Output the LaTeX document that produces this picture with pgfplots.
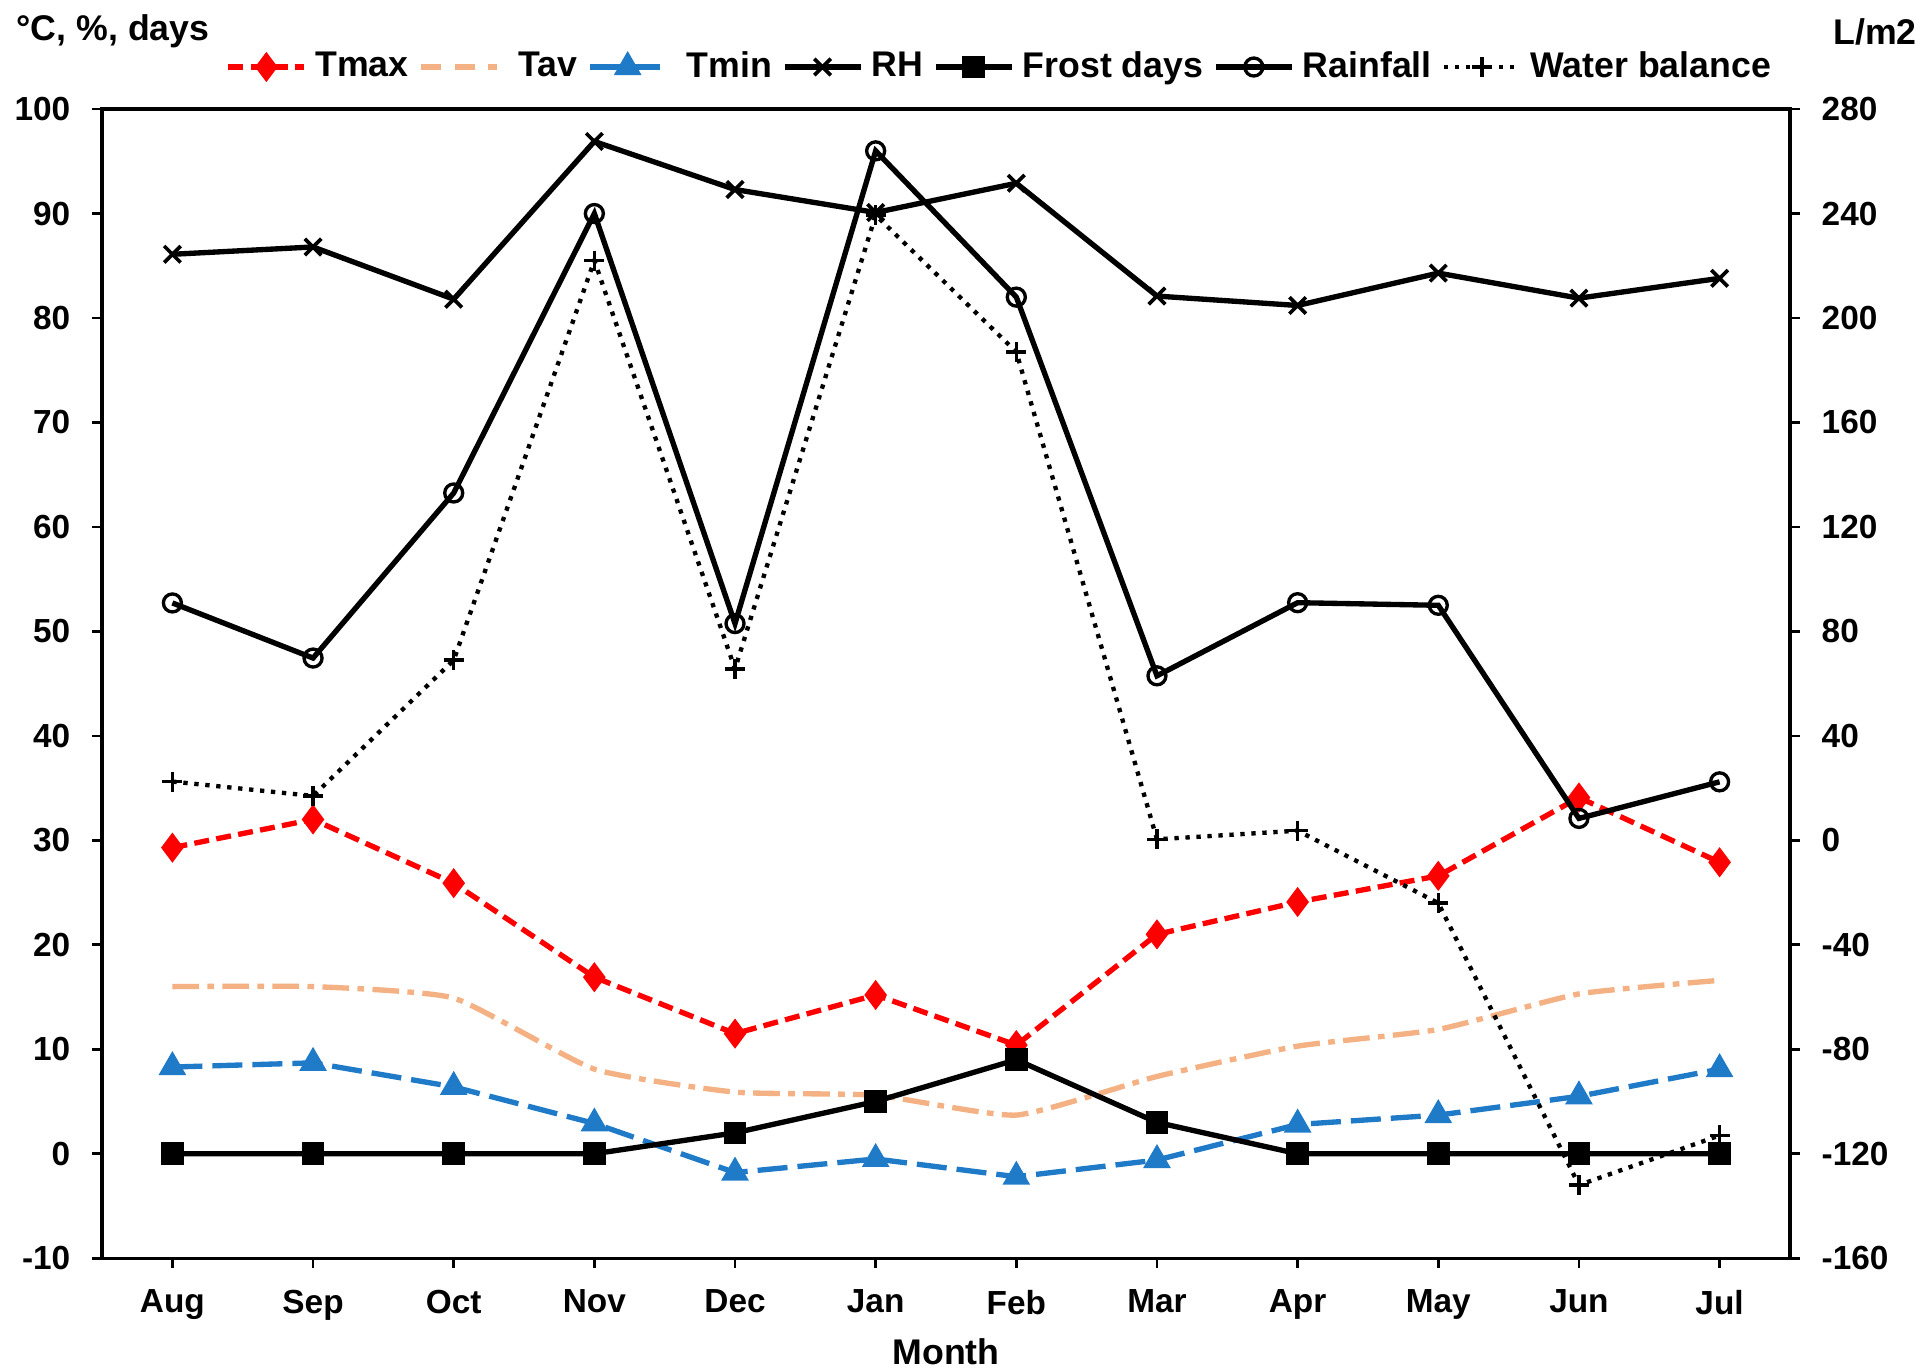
\documentclass[border=0pt]{standalone}
\usepackage{fontspec}
\setmainfont{Liberation Sans}
\usepackage{pgfplots}
\pgfplotsset{compat=1.18}
\definecolor{tmaxc}{HTML}{FF0000}
\definecolor{tavc}{HTML}{F4B183}
\definecolor{tminc}{HTML}{1F7BC8}
\begin{document}
\begin{tikzpicture}
\pgfplotsset{
  base/.style={
    scale only axis, width=506pt, height=344.5pt,
    xmin=-0.5, xmax=11.5,
    xtick={0,...,11},
    /pgf/number format/assume math mode=true,
    every tick label/.append style={font=\fontsize{10}{12}\selectfont\bfseries},
    axis line style={line width=1pt},
    tick style={line width=0.8pt, black},
    tick align=outside,
    major tick length=3pt,
    legend image code/.code={%
      \draw[mark repeat=2,mark phase=2] plot coordinates {(0cm,0cm) (0.4cm,0cm) (0.8cm,0cm)};},
  }
}
\begin{axis}[base,
  ymin=-10, ymax=100, ytick={-10,0,...,100},
  xticklabels={Aug,Sep,Oct,Nov,Dec,Jan,Feb,Mar,Apr,May,Jun,Jul},
  xtick pos=bottom, ytick pos=left,
  xticklabel style={yshift=-3pt},
  yticklabel style={xshift=-3pt},
  clip=false,
]
\addplot[color=tmaxc, line width=1.6pt, dash pattern=on 4.5pt off 2.2pt, mark=diamond*, mark size=3.2pt, mark options={solid, fill=tmaxc}]
  coordinates {(0,29.3)(1,32.0)(2,25.9)(3,16.9)(4,11.5)(5,15.2)(6,10.4)(7,21.0)(8,24.1)(9,26.6)(10,34.1)(11,27.9)};
\addplot[color=tavc, line width=1.6pt, dash pattern=on 8pt off 2.5pt on 2pt off 2.5pt, smooth, tension=0.3]
  coordinates {(0,16.0)(1,16.0)(2,14.9)(3,8.1)(4,5.9)(5,5.6)(6,3.7)(7,7.4)(8,10.3)(9,11.9)(10,15.3)(11,16.6)};
\addplot[color=tminc, line width=1.6pt, dash pattern=on 9pt off 3pt, mark=triangle*, mark size=3.2pt, mark options={solid, fill=tminc}]
  coordinates {(0,8.3)(1,8.7)(2,6.4)(3,2.9)(4,-1.8)(5,-0.5)(6,-2.2)(7,-0.6)(8,2.8)(9,3.7)(10,5.5)(11,8.1)};
\addplot[color=black, line width=1.6pt, mark=x, mark size=3.5pt, mark options={solid, line width=1.1pt}]
  coordinates {(0,86.1)(1,86.8)(2,81.8)(3,96.9)(4,92.3)(5,90.1)(6,92.9)(7,82.1)(8,81.2)(9,84.3)(10,81.9)(11,83.8)};
\addplot[color=black, line width=1.6pt, mark=square*, mark size=2.6pt, mark options={solid, fill=black}]
  coordinates {(0,0)(1,0)(2,0)(3,0)(4,2)(5,5)(6,9)(7,3)(8,0)(9,0)(10,0)(11,0)};
\node[font=\fontsize{10.7}{12}\selectfont\bfseries] at ([xshift=3.3pt, yshift=23.4pt]rel axis cs:0,1) {°C, \%, days};
\node[font=\fontsize{10.7}{12}\selectfont\bfseries] at ([xshift=25.5pt, yshift=23pt]rel axis cs:1,1) {L/m2};
\node[font=\fontsize{10.7}{12}\selectfont\bfseries] at ([yshift=-27.9pt]rel axis cs:0.5,0) {Month};
\coordinate (sw) at (rel axis cs:0,0);
\coordinate (ne) at (rel axis cs:1,1);
\end{axis}
\begin{axis}[base,
  ymin=-160, ymax=280, ytick={-160,-120,...,280},
  axis x line=none, axis y line*=right,
  yticklabel style={xshift=3pt},
  xticklabels={},
  legend style={at={(0.533,1.0366)}, anchor=center, draw=none, fill=none,
    font=\fontsize{10.7}{12}\selectfont\bfseries, legend columns=-1,
    /tikz/every odd column/.append style={column sep=0.5pt},
    /tikz/every even column/.append style={column sep=1pt},
    inner sep=0pt},
  legend cell align=left,
]
\addlegendimage{color=tmaxc, line width=1.6pt, dash pattern=on 4.5pt off 2.2pt, mark=diamond*, mark size=3.2pt, mark options={solid, fill=tmaxc}}
\addlegendentry{Tmax}
\addlegendimage{color=tavc, line width=1.6pt, dash pattern=on 6pt off 4pt}
\addlegendentry{\hspace{3pt}Tav}
\addlegendimage{color=tminc, line width=1.6pt, dash pattern=on 9pt off 3pt, mark=triangle*, mark size=3.2pt, mark options={solid, fill=tminc}}
\addlegendentry{\hspace{3pt}Tmin}
\addlegendimage{color=black, line width=1.6pt, mark=x, mark size=3.5pt, mark options={solid, line width=1.1pt}}
\addlegendentry{RH}
\addlegendimage{color=black, line width=1.6pt, mark=square*, mark size=2.6pt, mark options={solid, fill=black}}
\addlegendentry{Frost days}
\addplot[color=black, line width=1.6pt, mark=o, mark size=2.7pt, mark options={solid, line width=1pt}]
  coordinates {(0,90.9)(1,69.8)(2,133)(3,240)(4,83)(5,264)(6,208)(7,63)(8,91)(9,90)(10,8.4)(11,22.4)};
\addlegendentry{Rainfall}
\addplot[color=black, line width=1.3pt, dotted, mark=+, mark size=3pt, mark options={solid, line width=1pt}]
  coordinates {(0,22.5)(1,17)(2,69)(3,222)(4,65.6)(5,239.4)(6,187)(7,0.4)(8,3.7)(9,-24)(10,-132)(11,-113)};
\addlegendentry{Water balance}
\end{axis}
\pgfresetboundingbox
\path ([shift={(-30.6pt,-33pt)}]sw) rectangle ([shift={(39.3pt,32.7pt)}]ne);
\end{tikzpicture}
\end{document}
